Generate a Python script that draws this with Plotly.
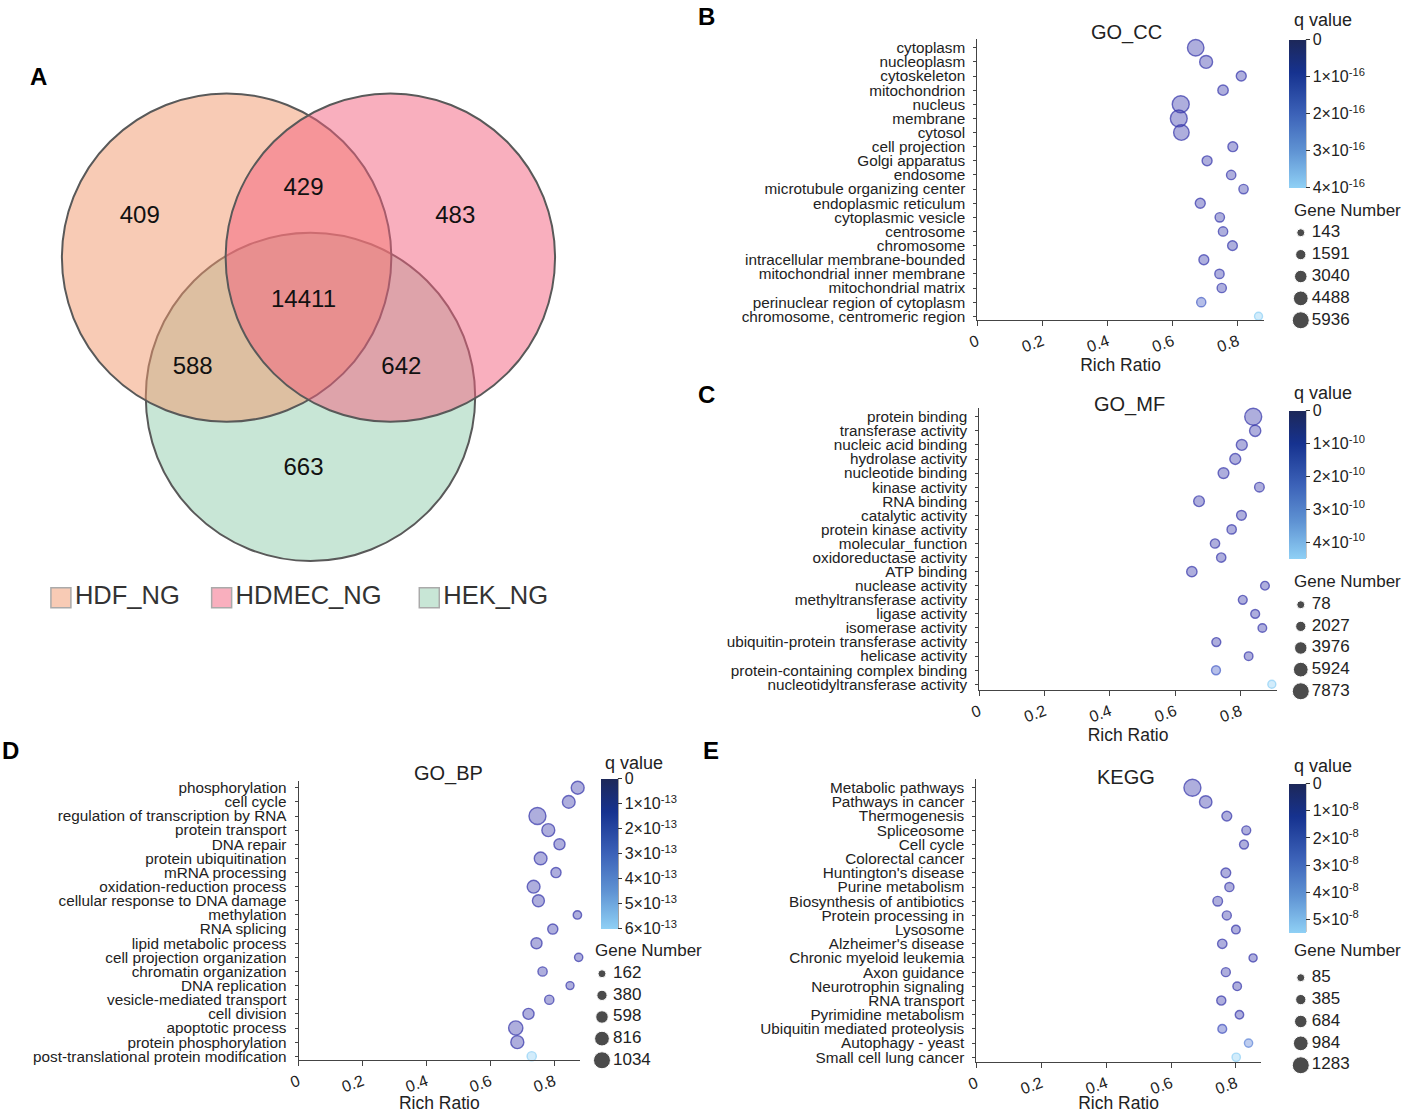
import plotly.graph_objects as go

W, H = 1407, 1113
FONT = "Arial, Liberation Sans, sans-serif"

# ---------------- Panel A: Venn data ----------------
venn_sets = ["HDF_NG", "HDMEC_NG", "HEK_NG"]
venn_colors = ["#f1976b", "#f35f7d", "#91cdad"]
venn_regions = ["HDF", "HDF&HDMEC", "HDMEC", "ALL", "HDF&HEK", "HDMEC&HEK", "HEK"]
venn_counts = [409, 429, 483, 14411, 588, 642, 663]

# ---------------- Panel B: GO_CC ----------------
cc_terms = ["cytoplasm", "nucleoplasm", "cytoskeleton", "mitochondrion", "nucleus", "membrane",
            "cytosol", "cell projection", "Golgi apparatus", "endosome",
            "microtubule organizing center", "endoplasmic reticulum", "cytoplasmic vesicle",
            "centrosome", "chromosome", "intracellular membrane-bounded",
            "mitochondrial inner membrane", "mitochondrial matrix",
            "perinuclear region of cytoplasm", "chromosome, centromeric region"]
cc_ratio = [0.671, 0.703, 0.811, 0.755, 0.625, 0.619, 0.627, 0.785, 0.706, 0.780,
            0.818, 0.685, 0.745, 0.755, 0.784, 0.696, 0.744, 0.751, 0.688, 0.864]
cc_genes = [5600, 3300, 1400, 1700, 5936, 5850, 5000, 1300, 1400, 1000,
            1000, 1400, 1050, 1000, 1250, 1350, 1000, 950, 900, 143]
cc_q = [2e-18, 3e-18, 4e-18, 3e-18, 1e-18, 1e-18, 2e-18, 5e-18, 4e-18, 5e-18,
        6e-18, 5e-18, 6e-18, 7e-18, 8e-18, 9e-18, 1e-17, 1.2e-17, 1.6e-16, 4.0e-16]
cc_size_ticks = [143, 1591, 3040, 4488, 5936]
cc_q_ticks = [0, 1e-16, 2e-16, 3e-16, 4e-16]

# ---------------- Panel C: GO_MF ----------------
mf_terms = ["protein binding", "transferase activity", "nucleic acid binding", "hydrolase activity",
            "nucleotide binding", "kinase activity", "RNA binding", "catalytic activity",
            "protein kinase activity", "molecular_function", "oxidoreductase activity", "ATP binding",
            "nuclease activity", "methyltransferase activity", "ligase activity", "isomerase activity",
            "ubiquitin-protein transferase activity", "helicase activity",
            "protein-containing complex binding", "nucleotidyltransferase activity"]
mf_ratio = [0.839, 0.845, 0.804, 0.784, 0.748, 0.858, 0.673, 0.803, 0.773, 0.722,
            0.741, 0.651, 0.875, 0.807, 0.845, 0.867, 0.726, 0.825, 0.725, 0.896]
mf_genes = [7873, 2900, 2600, 2600, 2500, 1500, 2400, 1600, 1200, 1200,
            1200, 2100, 700, 800, 800, 600, 900, 600, 900, 78]
mf_q = [1e-13, 2e-13, 3e-13, 4e-13, 5e-13, 6e-13, 7e-13, 8e-13, 9e-13, 1e-12,
        1.2e-12, 1.4e-12, 1.6e-12, 1.8e-12, 2e-12, 2.5e-12, 3e-12, 4e-12, 2.0e-10, 4.5e-10]
mf_size_ticks = [78, 2027, 3976, 5924, 7873]
mf_q_ticks = [0, 1e-10, 2e-10, 3e-10, 4e-10]

# ---------------- Panel D: GO_BP ----------------
bp_terms = ["phosphorylation", "cell cycle", "regulation of transcription by RNA", "protein transport",
            "DNA repair", "protein ubiquitination", "mRNA processing", "oxidation-reduction process",
            "cellular response to DNA damage", "methylation", "RNA splicing", "lipid metabolic process",
            "cell projection organization", "chromatin organization", "DNA replication",
            "vesicle-mediated transport", "cell division", "apoptotic process",
            "protein phosphorylation", "post-translational protein modification"]
bp_ratio = [0.874, 0.846, 0.748, 0.782, 0.817, 0.758, 0.806, 0.736, 0.751, 0.873,
            0.796, 0.745, 0.877, 0.764, 0.850, 0.785, 0.720, 0.680, 0.685, 0.730]
bp_genes = [640, 620, 1034, 640, 460, 620, 370, 630, 550, 200,
            370, 460, 190, 285, 162, 285, 460, 770, 650, 285]
bp_q = [1e-16, 2e-16, 1e-16, 3e-16, 4e-16, 5e-16, 6e-16, 7e-16, 8e-16, 9e-16,
        1e-15, 1.2e-15, 1.4e-15, 1.6e-15, 1.8e-15, 2e-15, 2.5e-15, 3e-15, 4e-15, 6.0e-13]
bp_size_ticks = [162, 380, 598, 816, 1034]
bp_q_ticks = [0, 1e-13, 2e-13, 3e-13, 4e-13, 5e-13, 6e-13]

# ---------------- Panel E: KEGG ----------------
kegg_terms = ["Metabolic pathways", "Pathways in cancer", "Thermogenesis", "Spliceosome", "Cell cycle",
              "Colorectal cancer", "Huntington's disease", "Purine metabolism",
              "Biosynthesis of antibiotics", "Protein processing in", "Lysosome",
              "Alzheimer's disease", "Chronic myeloid leukemia", "Axon guidance",
              "Neurotrophin signaling", "RNA transport", "Pyrimidine metabolism",
              "Ubiquitin mediated proteolysis", "Autophagy - yeast", "Small cell lung cancer"]
kegg_ratio = [0.666, 0.707, 0.772, 0.832, 0.825, 0.881, 0.769, 0.780, 0.744, 0.772,
              0.800, 0.758, 0.853, 0.769, 0.804, 0.755, 0.811, 0.758, 0.839, 0.801]
kegg_genes = [1283, 680, 330, 200, 210, 85, 320, 240, 300, 220,
              170, 270, 100, 220, 160, 230, 140, 190, 120, 130]
kegg_q = [1e-12, 2e-12, 3e-12, 4e-12, 5e-12, 6e-12, 8e-12, 1e-11, 1.2e-11, 1.5e-11,
          2e-11, 3e-11, 4e-11, 5e-11, 7e-11, 1e-10, 2e-10, 1.5e-8, 3.5e-8, 5.5e-8]
kegg_size_ticks = [85, 385, 684, 984, 1283]
kegg_q_ticks = [0, 1e-8, 2e-8, 3e-8, 4e-8, 5e-8]


# ---------------- helpers ----------------
X_OFF, X_SCALE = 9.0, 0.9946   # observed horizontal offset/scale of the rendered page


def px_x(px):
    return ((px - X_OFF) / X_SCALE) / W


def px_y(py):
    return 1 - py / H


def blend_white(hexcol, a=0.5):
    h = hexcol.lstrip("#")
    r, g, b = (int(h[i:i + 2], 16) for i in (0, 2, 4))
    return "rgb(%d,%d,%d)" % (round(a * r + (1 - a) * 255), round(a * g + (1 - a) * 255),
                              round(a * b + (1 - a) * 255))


def rgba(hexcol, a):
    h = hexcol.lstrip("#")
    r, g, b = (int(h[i:i + 2], 16) for i in (0, 2, 4))
    return "rgba(%d,%d,%d,%.2f)" % (r, g, b, a)


def diam(n, lo, hi):
    return 8 + 9 * (n - lo) / (hi - lo)


def sci_label(v):
    if v == 0:
        return "0"
    s = "%.0e" % v
    mant, ex = s.split("e")
    return "%s×10<sup>%d</sup>" % (mant, int(ex))


fig = go.Figure()
layout = dict(width=W, height=H, margin=dict(l=0, r=0, t=0, b=0), autosize=False,
              paper_bgcolor="white", plot_bgcolor="rgba(0,0,0,0)",
              font=dict(family=FONT, color="#222"), showlegend=False)
annotations = []
shapes = []

# ---------------- Panel A ----------------
VENN_W, VENN_H = 600, 640
circle_geom = {"HDF_NG": (226, 257), "HDMEC_NG": (390, 257), "HEK_NG": (310, 397)}
R = 165
label_pos = {"HDF": (139, 216), "HDF&HDMEC": (303, 188), "HDMEC": (455, 216), "ALL": (303, 301),
             "HDF&HEK": (192, 368), "HDMEC&HEK": (401, 368), "HEK": (303, 470)}
layout["xaxis"] = dict(domain=[0, VENN_W / W], range=[X_OFF, X_OFF + VENN_W * X_SCALE], visible=False,
                       fixedrange=True)
layout["yaxis"] = dict(domain=[px_y(VENN_H), 1], range=[VENN_H, 0], visible=False, fixedrange=True)
for name in ["HEK_NG", "HDF_NG", "HDMEC_NG"]:
    cx, cy = circle_geom[name]
    col = venn_colors[venn_sets.index(name)]
    shapes.append(dict(type="circle", xref="x", yref="y", x0=cx - R, x1=cx + R, y0=cy - R, y1=cy + R,
                       fillcolor=rgba(col, 0.5), line=dict(color="#595959", width=2), layer="below"))
fig.add_trace(go.Scatter(x=[label_pos[r][0] for r in venn_regions],
                         y=[label_pos[r][1] for r in venn_regions],
                         text=[str(c) for c in venn_counts], mode="text",
                         textfont=dict(size=24, color="#111", family=FONT),
                         xaxis="x", yaxis="y", hoverinfo="skip"))
legend_sq_x = [60, 221, 429]
legend_y = 599
fig.add_trace(go.Scatter(x=legend_sq_x, y=[legend_y] * 3, mode="markers",
                         marker=dict(symbol="square", size=20, color=[blend_white(c) for c in venn_colors],
                                     line=dict(color="#aaaaaa", width=1.5)),
                         xaxis="x", yaxis="y", hoverinfo="skip"))
fig.add_trace(go.Scatter(x=[x + 14 for x in legend_sq_x], y=[legend_y] * 3, mode="text",
                         text=venn_sets, textposition="middle right",
                         textfont=dict(size=25.5, color="#333", family=FONT),
                         xaxis="x", yaxis="y", hoverinfo="skip"))

# ---------------- bubble panels ----------------
BUBBLE_SCALE = [[0, "#3434aa"], [0.5, "#4a66cc"], [1, "#8fd0f5"]]
BAR_SCALE = [[0, "#8fd0f5"], [0.25, "#5f93d3"], [0.5, "#3c62b8"], [0.78, "#16328f"], [1, "#1d2859"]]

panels = [
    dict(key="B", title="GO_CC", terms=cc_terms, ratio=cc_ratio, genes=cc_genes, q=cc_q,
         size_ticks=cc_size_ticks, q_ticks=cc_q_ticks, qmax=4.0e-16,
         left=978, right=1265, top=37, bottom=320, first=46, last=316, ppu=326,
         title_xy=(1127, 31), letter=(707, 15), cb_x=1290, cb_top=38, cb_len=148,
         qlabel=(1293, 18), gn=(1293, 210), leg_x=1293, leg_first=232, leg_step=22),
    dict(key="C", title="GO_MF", terms=mf_terms, ratio=mf_ratio, genes=mf_genes, q=mf_q,
         size_ticks=mf_size_ticks, q_ticks=mf_q_ticks, qmax=4.5e-10,
         left=980, right=1278, top=408, bottom=692, first=417, last=686, ppu=327,
         title_xy=(1130, 405), letter=(707, 395), cb_x=1290, cb_top=411, cb_len=148,
         qlabel=(1293, 393), gn=(1293, 583), leg_x=1293, leg_first=606, leg_step=21.75),
    dict(key="D", title="GO_BP", terms=bp_terms, ratio=bp_ratio, genes=bp_genes, q=bp_q,
         size_ticks=bp_size_ticks, q_ticks=bp_q_ticks, qmax=6.0e-13,
         left=298, right=580, top=783, bottom=1064, first=790, last=1060, ppu=320,
         title_xy=(448, 776), letter=(10, 753), cb_x=601, cb_top=781, cb_len=150,
         qlabel=(603, 765), gn=(593, 954), leg_x=593, leg_first=977, leg_step=21.75),
    dict(key="E", title="KEGG", terms=kegg_terms, ratio=kegg_ratio, genes=kegg_genes, q=kegg_q,
         size_ticks=kegg_size_ticks, q_ticks=kegg_q_ticks, qmax=5.5e-8,
         left=977, right=1262, top=781, bottom=1066, first=790, last=1061, ppu=325,
         title_xy=(1127, 779), letter=(711, 753), cb_x=1290, cb_top=786, cb_len=149,
         qlabel=(1293, 768), gn=(1293, 954), leg_x=1293, leg_first=981, leg_step=22),
]

annotations.append(dict(text="<b>A</b>", x=px_x(38), y=px_y(75), xref="paper", yref="paper",
                        xanchor="center", yanchor="middle",
                        showarrow=False, font=dict(size=24, color="black", family=FONT)))

CB_THICK = 17
for i, p in enumerate(panels):
    ax = i + 2
    lg = i + 6
    xa, ya = "x%d" % ax, "y%d" % ax
    xl, yl = "x%d" % lg, "y%d" % lg
    n = len(p["terms"])
    step = (p["last"] - p["first"]) / (n - 1)
    y_lo = -(p["first"] - p["top"]) / step
    y_hi = (n - 1) + (p["bottom"] - p["last"]) / step
    xmax = (p["right"] - p["left"]) / p["ppu"]
    lo, hi = p["size_ticks"][0], p["size_ticks"][-1]
    sizes = [diam(g, lo, hi) for g in p["genes"]]

    layout["xaxis%d" % ax] = dict(domain=[px_x(p["left"]), px_x(p["right"])], range=[0, xmax],
                                  anchor=ya, showline=True, linecolor="#444", linewidth=1,
                                  ticks="outside", ticklen=5, tickcolor="#444",
                                  tickvals=[0, 0.2, 0.4, 0.6, 0.8], ticktext=["0", "0.2", "0.4", "0.6", "0.8"],
                                  tickangle=-20, tickfont=dict(size=16, color="#222"),
                                  showgrid=False, zeroline=False, fixedrange=True,
                                  title=dict(text="Rich Ratio", font=dict(size=17.5, color="#222"), standoff=3))
    layout["yaxis%d" % ax] = dict(domain=[px_y(p["bottom"]), px_y(p["top"])], anchor=xa,
                                  type="category", categoryorder="array", categoryarray=p["terms"],
                                  tickmode="array", tickvals=p["terms"], ticktext=p["terms"],
                                  range=[y_hi, y_lo], showline=True, linecolor="#444", linewidth=1,
                                  ticks="outside", ticklen=3, tickcolor="#444", ticklabelstandoff=5,
                                  tickfont=dict(size=15.3, color="#222"), showgrid=False,
                                  zeroline=False, fixedrange=True)

    # bubble fill
    fig.add_trace(go.Scatter(x=p["ratio"], y=p["terms"], mode="markers", xaxis=xa, yaxis=ya,
                             marker=dict(size=sizes, color=p["q"], cmin=0, cmax=p["qmax"],
                                         colorscale=BUBBLE_SCALE, opacity=0.4, line=dict(width=0),
                                         showscale=False),
                             cliponaxis=False, hoverinfo="skip"))
    # bubble outline
    fig.add_trace(go.Scatter(x=p["ratio"], y=p["terms"], mode="markers", xaxis=xa, yaxis=ya,
                             marker=dict(symbol="circle-open", size=sizes, color=p["q"], cmin=0,
                                         cmax=p["qmax"], colorscale=BUBBLE_SCALE,
                                         line=dict(width=1.4), showscale=False),
                             cliponaxis=False, hoverinfo="skip"))
    # colorbar (reversed: 0 on top)
    unit = p["q_ticks"][1]
    fig.add_trace(go.Scatter(x=[None], y=[None], mode="markers", xaxis=xa, yaxis=ya,
                             marker=dict(color=[0], cmin=-p["qmax"] / unit, cmax=0, colorscale=BAR_SCALE,
                                         showscale=True,
                                         colorbar=dict(x=px_x(p["cb_x"]), xanchor="left",
                                                       y=px_y(p["cb_top"]), yanchor="top",
                                                       lenmode="pixels", len=p["cb_len"],
                                                       thicknessmode="pixels", thickness=CB_THICK,
                                                       xpad=0, ypad=0, outlinewidth=0,
                                                       ticks="outside", ticklen=4, tickcolor="#333",
                                                       tickvals=[-t / unit for t in p["q_ticks"]],
                                                       ticktext=[sci_label(t) for t in p["q_ticks"]],
                                                       tickfont=dict(size=16, color="#222", family=FONT))),
                             hoverinfo="skip"))
    shapes.append(dict(type="line", xref="paper", yref="paper",
                       x0=px_x(p["cb_x"] + CB_THICK), x1=px_x(p["cb_x"] + CB_THICK),
                       y0=px_y(p["cb_top"]), y1=px_y(p["cb_top"] + p["cb_len"]),
                       line=dict(color="#333", width=1)))
    # size legend
    leg_top = p["leg_first"] - p["leg_step"] / 2
    leg_bot = p["leg_first"] + p["leg_step"] * 4.5
    layout["xaxis%d" % lg] = dict(domain=[px_x(p["leg_x"]), px_x(p["leg_x"] + 80)], range=[0, 80],
                                  anchor=yl, visible=False, fixedrange=True)
    layout["yaxis%d" % lg] = dict(domain=[px_y(leg_bot), px_y(leg_top)], range=[4.5, -0.5],
                                  anchor=xl, visible=False, fixedrange=True)
    idx = list(range(len(p["size_ticks"])))
    fig.add_trace(go.Scatter(x=[9] * len(idx), y=idx, mode="markers", xaxis=xl, yaxis=yl,
                             marker=dict(size=[diam(v, lo, hi) for v in p["size_ticks"]], color="black"),
                             cliponaxis=False, hoverinfo="skip"))
    fig.add_trace(go.Scatter(x=[20] * len(idx), y=idx, mode="text", xaxis=xl, yaxis=yl,
                             text=[str(v) for v in p["size_ticks"]], textposition="middle right",
                             textfont=dict(size=17, color="#222", family=FONT),
                             cliponaxis=False, hoverinfo="skip"))

    annotations.append(dict(text=p["title"], x=px_x(p["title_xy"][0]), y=px_y(p["title_xy"][1]),
                            xref="paper", yref="paper", showarrow=False, xanchor="center", yanchor="middle",
                            font=dict(size=20, color="#222", family=FONT)))
    annotations.append(dict(text="<b>%s</b>" % p["key"], x=px_x(p["letter"][0]), y=px_y(p["letter"][1]),
                            xref="paper", yref="paper", showarrow=False, xanchor="center", yanchor="middle",
                            font=dict(size=24, color="black", family=FONT)))
    annotations.append(dict(text="q value", x=px_x(p["qlabel"][0]), y=px_y(p["qlabel"][1]),
                            xref="paper", yref="paper", showarrow=False, xanchor="left", yanchor="middle",
                            font=dict(size=18, color="#222", family=FONT)))
    annotations.append(dict(text="Gene Number", x=px_x(p["gn"][0]), y=px_y(p["gn"][1]),
                            xref="paper", yref="paper", showarrow=False, xanchor="left", yanchor="middle",
                            font=dict(size=17, color="#222", family=FONT)))

layout["annotations"] = annotations
layout["shapes"] = shapes
fig.update_layout(**layout)
fig.write_html("out.html", config={"displayModeBar": False},
               post_script="document.body.style.margin='0';document.body.style.padding='0';"
                           "document.body.style.overflow='hidden';")
